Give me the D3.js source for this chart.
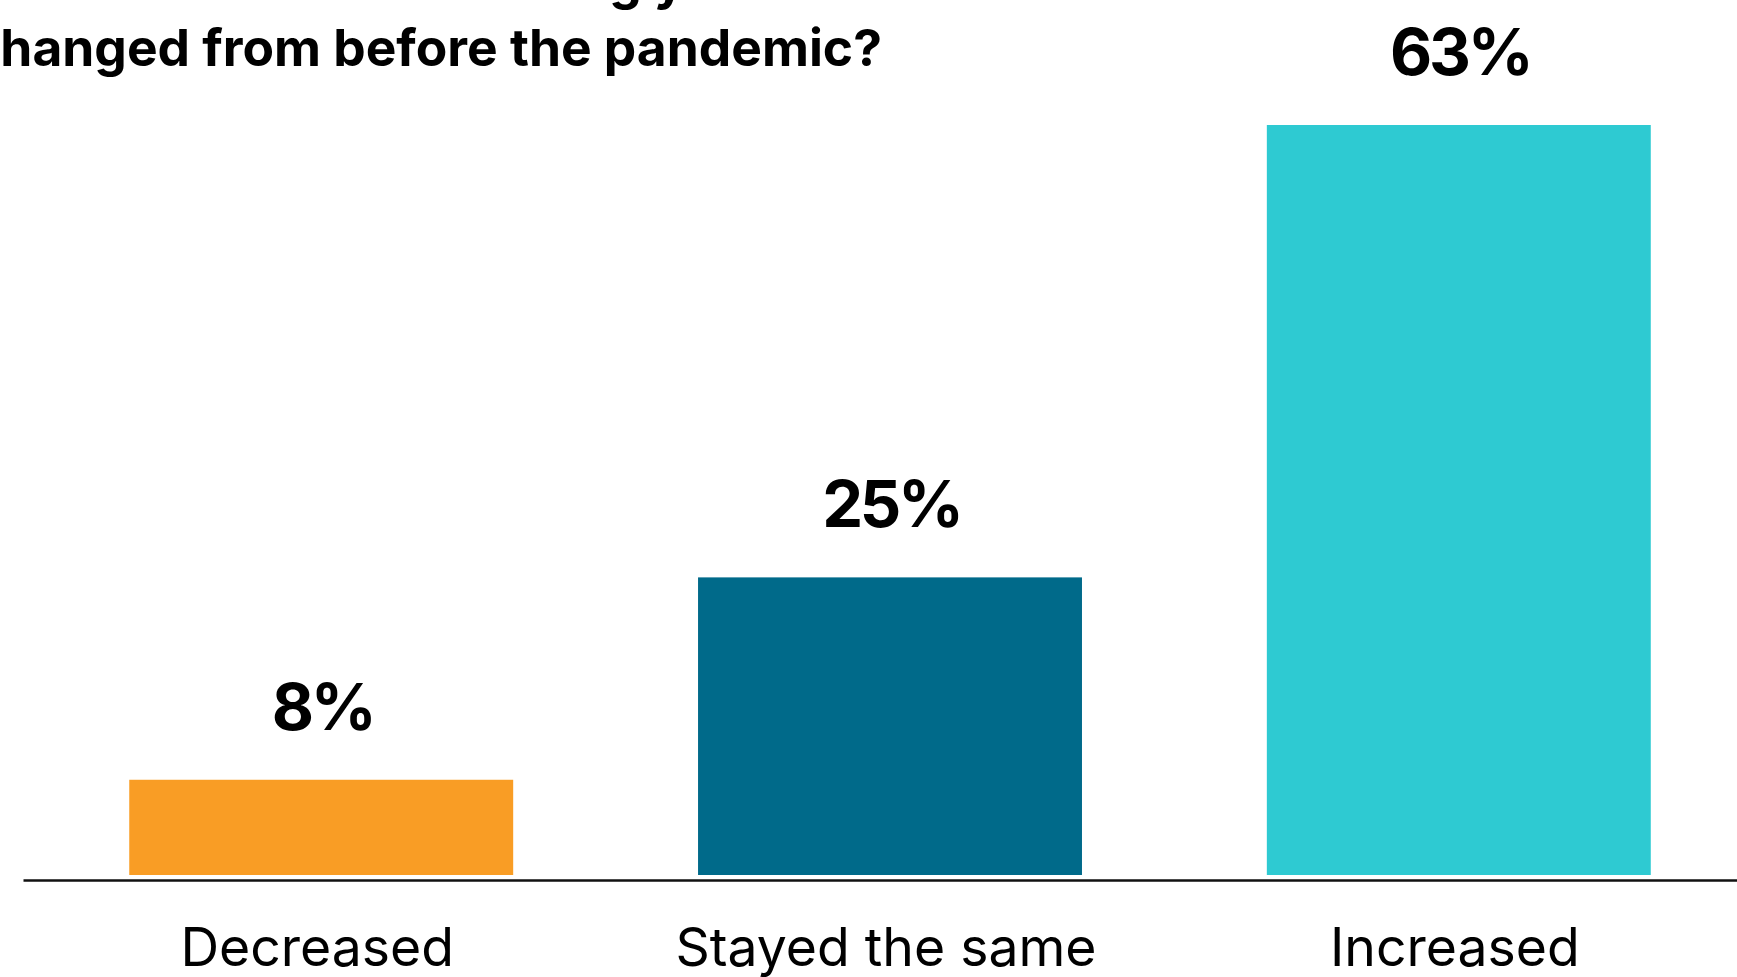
<!DOCTYPE html>
<html>
<head>
<meta charset="utf-8">
<script src="https://cdn.jsdelivr.net/npm/d3@7"></script>
<style>
  html, body { margin: 0; padding: 0; background: #ffffff; overflow: hidden; }
  svg { display: block; }
</style>
</head>
<body>
<svg id="chart" width="1737" height="977"></svg>
<script>
// ---- data ----
const categories = ["Decreased", "Stayed the same", "Increased"];
const values = [8, 25, 63];
const valueLabels = ["8%", "25%", "63%"];
const barColors = ["#f99d25", "#006a8a", "#2ecad2"];
const titleLines = ["How has the level of biking you do", "changed from before the pandemic?"];

// ---- layout ----
const W = 1737, H = 977;
const svg = d3.select("#chart");
const font = "Inter, 'Noto Sans', sans-serif";

const x = d3.scaleBand()
  .domain(categories)
  .range([23, 1737])
  .paddingInner(0.325)
  .paddingOuter(0.1692)
  .align(0.552);

const y = d3.scaleLinear()
  .domain([0, 63])
  .range([875, 125]);

const axisY = 880;

// bars
svg.append("g")
  .selectAll("rect")
  .data(values)
  .join("rect")
  .attr("x", (d, i) => x(categories[i]))
  .attr("width", x.bandwidth())
  .attr("y", d => y(d))
  .attr("height", d => y(0) - y(d))
  .attr("fill", (d, i) => barColors[i]);

// value labels
svg.append("g")
  .selectAll("text")
  .data(values)
  .join("text")
  .attr("x", (d, i) => x(categories[i]) + x.bandwidth() / 2 + 1.5)
  .attr("y", d => y(d) - 50)
  .attr("text-anchor", "middle")
  .attr("font-family", font)
  .attr("font-weight", 700)
  .attr("font-size", 65)
  .attr("letter-spacing", "-0.05em")
  .attr("fill", "#000")
  .text((d, i) => valueLabels[i]);

// x axis
const axis = svg.append("g")
  .attr("transform", `translate(0,${axisY})`)
  .call(d3.axisBottom(x).tickSize(0).tickSizeOuter(0));
axis.select(".domain")
  .attr("stroke", "#111")
  .attr("stroke-width", 2.6);
axis.selectAll(".tick text")
  .attr("y", 86)
  .attr("dy", 0)
  .attr("dx", -4)
  .attr("font-family", font)
  .attr("font-weight", 400)
  .attr("font-size", 53.5)
  .attr("fill", "#000");

// title (partially cut off at top-left, as in reference)
const title = svg.append("g");
const line2 = title.append("text")
  .attr("x", 882)
  .attr("y", 66)
  .attr("text-anchor", "end")
  .attr("font-family", font)
  .attr("font-weight", 700)
  .attr("font-size", 51.5)
  .attr("fill", "#000")
  .text(titleLines[1]);
const startX = 882 - line2.node().getComputedTextLength();
title.append("text")
  .attr("x", startX)
  .attr("y", -1)
  .attr("text-anchor", "start")
  .attr("font-family", font)
  .attr("font-weight", 700)
  .attr("font-size", 51.5)
  .attr("fill", "#000")
  .text(titleLines[0]);
</script>
</body>
</html>
